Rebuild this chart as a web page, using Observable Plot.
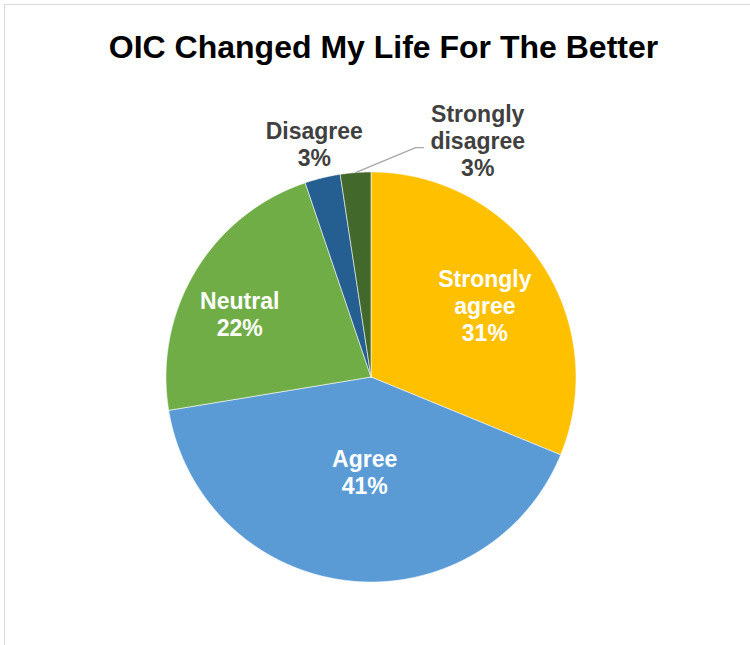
<!DOCTYPE html>
<html>
<head>
<meta charset="utf-8">
<script src="https://cdn.jsdelivr.net/npm/d3@7"></script>
<script src="https://cdn.jsdelivr.net/npm/@observablehq/plot@0.6"></script>
<style>
  body { margin: 0; background: #fff; }
  #wrap { position: relative; width: 750px; height: 645px; overflow: hidden; background: #fff; }
  #frame { position: absolute; left: 4px; top: 4px; width: 900px; height: 900px;
           border-left: 1.5px solid #d9d9d9; border-top: 1.5px solid #d9d9d9; box-sizing: border-box; }
  #chart { position: absolute; left: 0; top: 0; }
</style>
</head>
<body>
<div id="wrap"><div id="frame"></div><div id="chart"></div></div>
<script>
// ---- data ----
const title = "OIC Changed My Life For The Better";
const categories = ["Strongly agree", "Agree", "Neutral", "Disagree", "Strongly disagree"];
const labelNames = ["Strongly\nagree", "Agree", "Neutral", "Disagree", "Strongly\ndisagree"];
const shares = [31.2, 41.2, 22.4, 2.8, 2.4];
const percentLabels = ["31%", "41%", "22%", "3%", "3%"];
const colors = ["#FFC000", "#5B9BD5", "#70AD47", "#255E91", "#43682B"];

// ---- label placement (radius as fraction of pie radius, angle shift in degrees) ----
const labelRadius = [0.655, 0.465, 0.71, 1.17, 1.266];
const labelShift = [1.8, -2.7, -5.4, 0, 28.6];
const labelInside = [true, true, true, false, false];

// ---- layout ----
const W = 750, H = 645, cx = 370.5, cy = 376.5, R = 205;

const arcs = d3.pie().sort(null).value(d => d)(shares);
const polar = (a, r) => ({x: r * Math.sin(a), y: r * Math.cos(a)});

const slicePts = [];
arcs.forEach((a, i) => {
  const cat = categories[i];
  slicePts.push({cat, x: 0, y: 0});
  const n = Math.max(4, Math.ceil((a.endAngle - a.startAngle) / 0.004));
  for (let k = 0; k <= n; k++) {
    const ang = a.startAngle + (a.endAngle - a.startAngle) * k / n;
    slicePts.push({cat, ...polar(ang, 1)});
  }
  slicePts.push({cat, x: 0, y: 0});
});

const labels = arcs.map((a, i) => {
  const mid = (a.startAngle + a.endAngle) / 2 + labelShift[i] * Math.PI / 180;
  return {...polar(mid, labelRadius[i]), text: labelNames[i] + "\n" + percentLabels[i], inside: labelInside[i]};
});

// leader line for the last slice
const lastArc = arcs[arcs.length - 1];
const lastMid = (lastArc.startAngle + lastArc.endAngle) / 2;
const deg = Math.PI / 180;
const leader = [polar(lastMid, 1.0), polar(11.0 * deg, 1.14), polar(12.9 * deg, 1.148)];

const chart = Plot.plot({
  width: W, height: H,
  margin: 0,
  x: {domain: [-cx / R, (W - cx) / R], axis: null},
  y: {domain: [-(H - cy) / R, cy / R], axis: null},
  color: {domain: categories, range: colors},
  style: {fontFamily: "'Liberation Sans', Arial, sans-serif", background: "transparent"},
  marks: [
    Plot.line(slicePts, {x: "x", y: "y", z: "cat", fill: "cat", stroke: "white", strokeWidth: 0.8, strokeOpacity: 0.7, curve: "linear"}),
    Plot.line(leader, {x: "x", y: "y", stroke: "#A6A6A6", strokeWidth: 1.2}),
    Plot.text(labels.filter(d => d.inside), {x: "x", y: "y", text: "text", fill: "white", fontSize: 23, fontWeight: "bold", lineHeight: 1.17, lineAnchor: "middle"}),
    Plot.text(labels.filter(d => !d.inside), {x: "x", y: "y", text: "text", fill: "#404040", fontSize: 23, fontWeight: "bold", lineHeight: 1.17, lineAnchor: "middle"}),
    Plot.text([title], {frameAnchor: "top", dx: 8, dy: 47, lineAnchor: "middle", fontSize: 32, fontWeight: "bold", fill: "#000"})
  ]
});
document.getElementById("chart").appendChild(chart);
</script>
</body>
</html>
